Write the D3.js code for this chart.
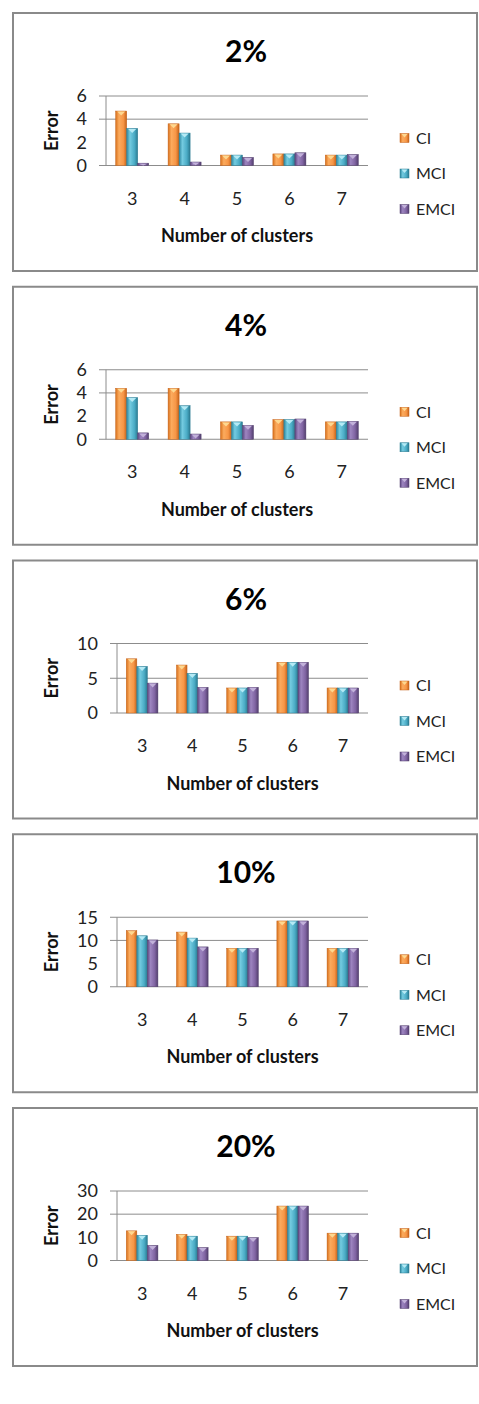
<!DOCTYPE html>
<html>
<head>
<meta charset="utf-8">
<script src="https://cdn.jsdelivr.net/npm/d3@7"></script>
<style>
    body { margin: 0; background: #fff; }
    svg { display: block; font-family: Lato, "Open Sans", sans-serif; }
</style>
</head>
<body>
<div id="charts"></div>
<script>
const categories = ["3", "4", "5", "6", "7"];
const seriesNames = ["CI", "MCI", "EMCI"];
const titles = ["2%", "4%", "6%", "10%", "20%"];
const yTicks = [[0, 2, 4, 6], [0, 2, 4, 6], [0, 5, 10], [0, 5, 10, 15], [0, 10, 20, 30]];

const ciValues = [
    [4.7, 3.6, 0.9, 1.0, 0.9],
    [4.4, 4.4, 1.5, 1.7, 1.5],
    [7.8, 6.9, 3.6, 7.3, 3.6],
    [12.1, 11.8, 8.3, 14.2, 8.3],
    [12.8, 11.3, 10.5, 23.5, 11.8]
];
const mciValues = [
    [3.2, 2.8, 0.9, 1.0, 0.9],
    [3.6, 2.9, 1.5, 1.7, 1.5],
    [6.7, 5.7, 3.6, 7.3, 3.6],
    [11.0, 10.5, 8.3, 14.2, 8.3],
    [10.9, 10.5, 10.5, 23.5, 11.8]
];
const emciValues = [
    [0.2, 0.3, 0.7, 1.1, 0.95],
    [0.55, 0.45, 1.2, 1.75, 1.55],
    [4.3, 3.7, 3.7, 7.3, 3.6],
    [10.1, 8.6, 8.3, 14.2, 8.3],
    [6.5, 5.6, 9.9, 23.5, 11.8]
];

// colores estilo Excel 2007
const colors = {
    CI:   { dark: "#d8711c", light: "#fbab5e", base: "#f79646", edge: "#c4621a", tip: "#fdd890" },
    MCI:  { dark: "#2d879f", light: "#74cbe0", base: "#4bacc6", edge: "#2a7b91", tip: "#b5eaf5" },
    EMCI: { dark: "#5c4680", light: "#9d85c0", base: "#8064a2", edge: "#523f6d", tip: "#c2b1da" }
};

const svg = d3.select("#charts")
    .append("svg")
    .attr("width", 479)
    .attr("height", 1404);

const defs = svg.append("defs");
seriesNames.forEach(s => {
    const g = defs.append("linearGradient")
        .attr("id", "grad-" + s)
        .attr("x1", 0).attr("x2", 1).attr("y1", 0).attr("y2", 0);
    g.append("stop").attr("offset", "0%").attr("stop-color", colors[s].dark);
    g.append("stop").attr("offset", "30%").attr("stop-color", colors[s].light);
    g.append("stop").attr("offset", "70%").attr("stop-color", colors[s].base);
    g.append("stop").attr("offset", "100%").attr("stop-color", colors[s].edge);
});

function drawPanel(i) {
    const top = 13 + i * 273.75;
    const panel = svg.append("g").attr("transform", `translate(0,${top})`);

    panel.append("rect")
        .attr("x", 13).attr("y", 0)
        .attr("width", 464).attr("height", 258)
        .attr("fill", "#fff")
        .attr("stroke", "#8a8a8a")
        .attr("stroke-width", 2);

    const ticks = yTicks[i];
    const axisX = d3.max(ticks) >= 10 ? 117 : 106;
    const plotRight = 368;
    const plotTop = 83;
    const plotBottom = 152.5;

    const data = categories.map((c, k) => ({
        category: c,
        CI: ciValues[i][k],
        MCI: mciValues[i][k],
        EMCI: emciValues[i][k]
    }));

    const x = d3.scaleBand()
        .domain(categories)
        .range([axisX, plotRight])
        .paddingInner(0.37)
        .paddingOuter(0.185);

    const xs = d3.scaleBand()
        .domain(seriesNames)
        .range([0, x.bandwidth()]);

    const y = d3.scaleLinear()
        .domain([0, d3.max(ticks)])
        .range([plotBottom, plotTop]);

    // grid: only the two top lines are visible in the picture
    panel.append("g")
        .selectAll("line")
        .data(ticks.filter((t, k) => k >= ticks.length - 2 || t === 0))
        .join("line")
        .attr("x1", axisX - 7)
        .attr("x2", plotRight)
        .attr("y1", d => y(d))
        .attr("y2", d => y(d))
        .attr("stroke", "#8c8c8c")
        .attr("stroke-width", 1);

    panel.append("line")
        .attr("x1", axisX).attr("x2", axisX)
        .attr("y1", plotTop).attr("y2", plotBottom)
        .attr("stroke", "#8c8c8c");

    const yAxis = panel.append("g")
        .attr("transform", `translate(${axisX},0)`)
        .call(d3.axisLeft(y).tickValues(ticks).tickFormat(d3.format("d")).tickSize(0).tickPadding(19));
    yAxis.select(".domain").remove();
    yAxis.selectAll("text")
        .style("font-family", "Lato, sans-serif")
        .style("font-size", "18px")
        .attr("fill", "#222");

    const xAxis = panel.append("g")
        .attr("transform", `translate(0,${plotBottom})`)
        .call(d3.axisBottom(x).tickSize(0).tickPadding(0));
    xAxis.select(".domain").remove();
    xAxis.selectAll("text")
        .attr("y", 39)
        .attr("dy", 0)
        .style("font-family", "Lato, sans-serif")
        .style("font-size", "18px")
        .attr("fill", "#222");

    // barras
    const groups = panel.append("g")
        .selectAll("g")
        .data(data)
        .join("g")
        .attr("transform", d => `translate(${x(d.category)},0)`);

    const bars = groups.selectAll("g")
        .data(d => seriesNames.map(s => ({ key: s, value: d[s] })))
        .join("g");

    bars.append("rect")
        .attr("x", d => xs(d.key))
        .attr("y", d => y(d.value))
        .attr("width", xs.bandwidth())
        .attr("height", d => plotBottom - y(d.value))
        .attr("fill", d => `url(#grad-${d.key})`)
        .attr("stroke", d => colors[d.key].edge)
        .attr("stroke-width", 0.5);

    bars.append("path")
        .attr("d", d => {
            const x0 = xs(d.key) + 1.5;
            const x1 = xs(d.key) + xs.bandwidth() - 1.5;
            const y0 = y(d.value) + 0.5;
            const h = Math.min(4, (plotBottom - y(d.value)) * 0.8);
            return `M${x0},${y0}L${x1},${y0}L${(x0 + x1) / 2},${y0 + h}Z`;
        })
        .attr("fill", d => colors[d.key].tip);

    // titulos
    panel.append("text")
        .attr("x", 246)
        .attr("y", 49)
        .attr("text-anchor", "middle")
        .style("font-size", "30px")
        .style("font-weight", "bold")
        .text(titles[i]);

    panel.append("text")
        .attr("x", (axisX + plotRight) / 2)
        .attr("y", 229)
        .attr("text-anchor", "middle")
        .style("font-size", "18px")
        .style("font-weight", "bold")
        .attr("fill", "#111")
        .text("Number of clusters");

    panel.append("text")
        .attr("transform", `translate(52,${(plotTop + plotBottom) / 2}) rotate(-90)`)
        .attr("dy", "0.36em")
        .attr("text-anchor", "middle")
        .style("font-size", "18px")
        .style("font-weight", "bold")
        .attr("fill", "#111")
        .text("Error");

    // leyenda
    const legend = panel.append("g")
        .selectAll("g")
        .data(seriesNames)
        .join("g")
        .attr("transform", (d, k) => `translate(400,${125 + k * 35.5})`);

    legend.append("rect")
        .attr("x", 0).attr("y", -4.5)
        .attr("width", 9).attr("height", 9)
        .attr("fill", d => `url(#grad-${d})`)
        .attr("stroke", d => colors[d].edge)
        .attr("stroke-width", 0.5);

    legend.append("path")
        .attr("d", "M1.5,-4L7.5,-4L4.5,-0.5Z")
        .attr("fill", d => colors[d].tip);

    legend.append("text")
        .attr("x", 16)
        .attr("dy", "0.36em")
        .style("font-size", "16px")
        .attr("fill", "#222")
        .text(d => d);
}

titles.forEach((t, i) => drawPanel(i));
</script>
</body>
</html>
